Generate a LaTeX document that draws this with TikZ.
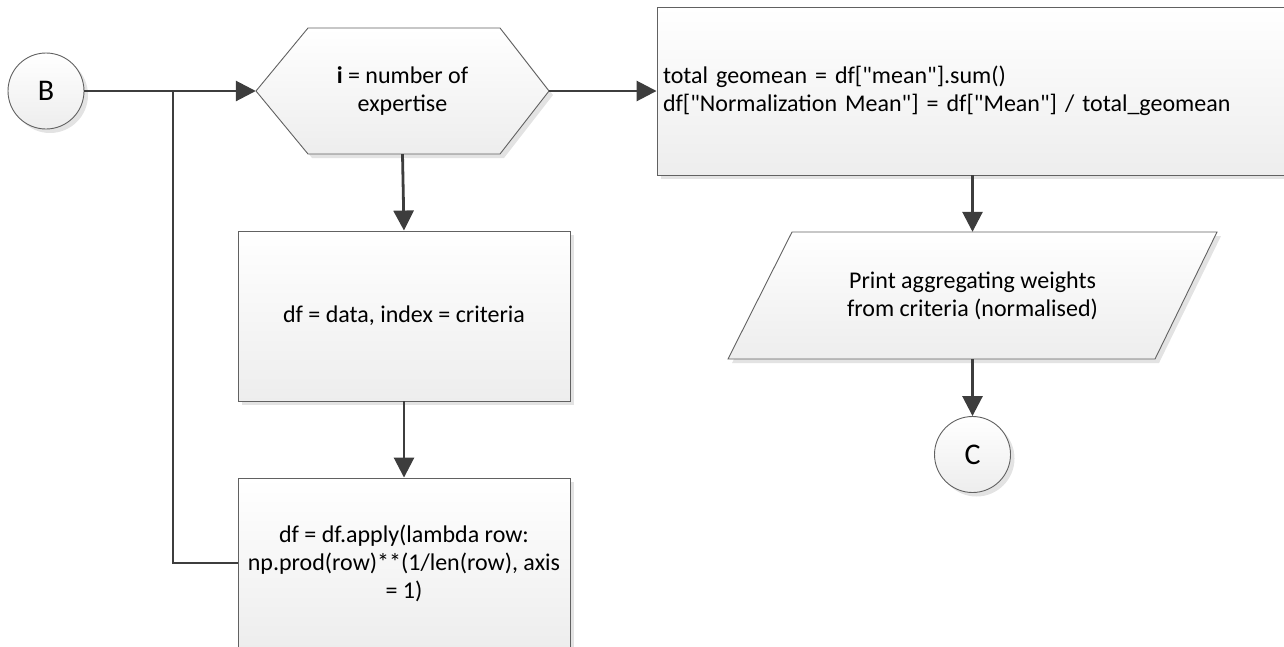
\documentclass[tikz,border=0pt]{standalone}
\usepackage{fontspec}
\setmainfont{Carlito}[Ligatures=TeXOff]
\usetikzlibrary{calc,arrows.meta}
\begin{document}
\begin{tikzpicture}[x=1pt,y=-1pt]
\tikzset{
 shp/.style={draw=black!62, line width=0.9pt, top color=white, bottom color=black!7,
   preaction={fill=black!11, transform canvas={shift={(4pt,-4pt)}}}},
 txt/.style={font=\fontsize{24}{28}\selectfont, align=center, inner sep=0pt},
 big/.style={font=\fontsize{30}{34}\selectfont},
 conn/.style={draw=black!76, line width=2.8pt, -{Triangle[length=20pt,width=20pt]}},
 wire/.style={draw=black!76, line width=2.8pt},
}
\useasboundingbox (0,0) rectangle (1284,646);
\clip (0,0) rectangle (1284,646);

% connector B
\node[txt, big, shp, circle, minimum size=76pt] (B) at (46,91) {B};

% hexagon
\path[shp] (256,91) -- (308,28) -- (500,28) -- (549,91) -- (500,154) -- (308,154) -- cycle;
\node[txt, minimum width=293pt, minimum height=126pt] (hx) at (402.5,91) {\textbf{i} = number of\\expertise};

% process boxes
\node[txt, shp, rectangle, minimum width=332pt, minimum height=170pt] (b1) at (404,316) {df = data, index = criteria};
\node[txt, shp, rectangle, minimum width=332pt, minimum height=170pt] (b2) at (404,563) {df = df.apply(lambda row:\\np.prod(row)**(1/len(row), axis\\= 1)};

% right box
\node[txt, shp, rectangle, minimum width=631pt, minimum height=168pt, text width=619pt, inner xsep=6pt, align=left] (rb) at (972.5,91) {total geomean = df["mean"].sum()\\df["Normalization Mean"] = df["Mean"] / total\_geomean};

% parallelogram
\path[shp] (792,232) -- (1217,232) -- (1155,359) -- (728,359) -- cycle;
\node[txt, minimum width=427pt, minimum height=127pt] (pr) at (972.5,295.5) {Print aggregating weights\\from criteria (normalised)};

% connector C
\node[txt, big, shp, circle, minimum size=76pt] (C) at (972.5,454.5) {C};

% connectors
\coordinate (jn) at (173,91);
\draw[conn] (B) -- (hx.west);
\draw[wire] (b2.west) -| (jn);
\draw[conn] (hx.east) -- (rb.west);
\draw[conn] (hx.south) -- (b1.north);
\draw[conn] (b1.south) -- (b2.north);
\draw[conn] (rb.south -| pr.north) -- (pr.north);
\draw[conn] (pr.south) -- (C.north);
\end{tikzpicture}
\end{document}
